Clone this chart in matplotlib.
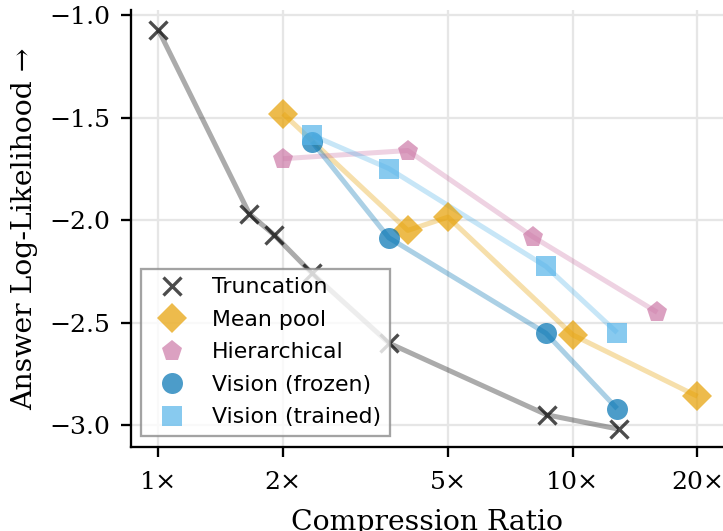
import matplotlib
matplotlib.use("Agg")
import matplotlib.pyplot as plt
from matplotlib.ticker import FixedLocator, FixedFormatter, NullLocator

# ---- data ----
trunc_x = [1.0, 1.66, 1.9, 2.35, 3.6, 8.65, 12.9]
trunc_y = [-1.07, -1.97, -2.07, -2.26, -2.60, -2.95, -3.02]

mean_x = [2, 4, 5, 10, 20]
mean_y = [-1.48, -2.05, -1.985, -2.56, -2.86]

hier_x = [2, 4, 8, 16]
hier_y = [-1.70, -1.66, -2.08, -2.45]

vfrozen_x = [2.35, 3.6, 8.62, 12.8]
vfrozen_y = [-1.617, -2.086, -2.552, -2.92]

vtrained_x = [2.35, 3.6, 8.62, 12.8]
vtrained_y = [-1.585, -1.748, -2.226, -2.549]

xticks = [1, 2, 5, 10, 20]
xticklabels = ["1×", "2×", "5×", "10×", "20×"]
yticks = [-3.0, -2.5, -2.0, -1.5, -1.0]
yticklabels = ["−3.0", "−2.5", "−2.0", "−1.5", "−1.0"]

S = 2.07   # geometry scale
F = 2.26   # font scale

plt.rcParams["font.family"] = ["DejaVu Serif"]

fig = plt.figure(figsize=(7.23, 5.31), dpi=100)
ax = fig.add_axes([0.1805, 0.1578, 1.0 - 0.1805, 0.9812 - 0.1578])

series = [
    ("Truncation", trunc_x, trunc_y, "black", "x"),
    ("Mean pool", mean_x, mean_y, "#E69F00", "D"),
    ("Hierarchical", hier_x, hier_y, "#CC79A7", "p"),
    ("Vision (frozen)", vfrozen_x, vfrozen_y, "#0072B2", "o"),
    ("Vision (trained)", vtrained_x, vtrained_y, "#56B4E9", "s"),
]
msizes = {"x": 6.5 * S, "D": 7.3 * S, "p": 7.6 * S, "o": 7.3 * S, "s": 7.3 * S}

for i, (name, xs, ys, col, mk) in enumerate(series):
    ax.plot(xs, ys, color=col, alpha=0.33, lw=1.75 * S, zorder=2 + i * 0.1,
            solid_capstyle="butt")
for i, (name, xs, ys, col, mk) in enumerate(series):
    if mk == "x":
        ax.plot(xs, ys, linestyle="none", marker=mk, color=col, alpha=0.7,
                ms=msizes[mk], mew=1.15 * S, label=name, zorder=3 + i * 0.1)
    else:
        ax.plot(xs, ys, linestyle="none", marker=mk, color=col, alpha=0.7,
                ms=msizes[mk], mew=0, label=name, zorder=3 + i * 0.1)

ax.set_xscale("log")
ax.set_xlim(0.857, 23.05)
ax.set_ylim(-3.1083, -0.974)
ax.xaxis.set_major_locator(FixedLocator(xticks))
ax.xaxis.set_major_formatter(FixedFormatter(xticklabels))
ax.xaxis.set_minor_locator(NullLocator())
ax.set_yticks(yticks)
ax.set_yticklabels(yticklabels)

ax.grid(True, which="major", color="#e6e6e6", lw=0.8 * S, zorder=0)
ax.set_axisbelow(True)

for s in ["top", "right"]:
    ax.spines[s].set_visible(False)
for s in ["left", "bottom"]:
    ax.spines[s].set_linewidth(0.8 * S)

ax.tick_params(axis="both", which="major", labelsize=8 * F, length=3.5 * S,
               width=0.8 * S, direction="out")
ax.tick_params(axis="x", pad=3.5 * S + 3)
ax.tick_params(axis="y", pad=3.5 * S)

ax.set_xlabel("Compression Ratio", fontsize=9 * F, labelpad=4 * S + 2)
ax.set_ylabel("Answer Log-Likelihood →", fontsize=9 * F, labelpad=4 * S)

leg = ax.legend(loc="lower left", fancybox=False, framealpha=0.8,
                prop={"family": "DejaVu Sans", "size": 7 * F},
                handlelength=2.0, handletextpad=0.8, borderpad=0.4,
                labelspacing=0.57, borderaxespad=0.5)
leg.get_frame().set_edgecolor("#8c8c8c")
leg.get_frame().set_linewidth(0.8 * S)
leg.set_zorder(10)

fig.savefig("out.png", dpi=100)
